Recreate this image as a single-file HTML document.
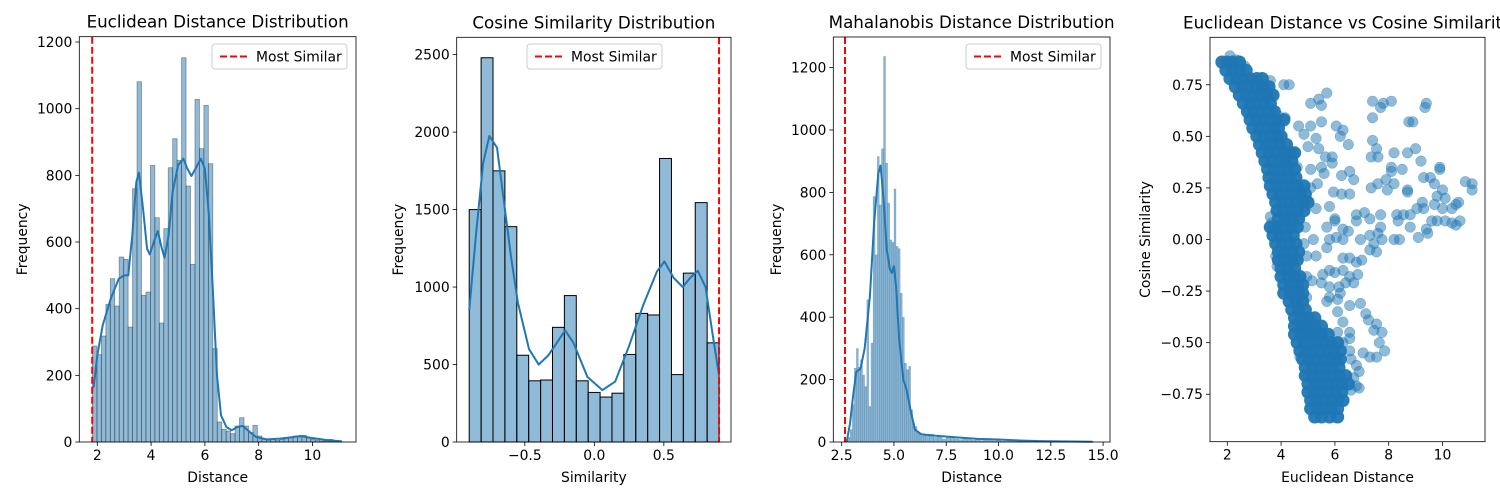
<!DOCTYPE html>
<html><head><meta charset="utf-8">
<style>
body{margin:0;background:#fff;width:1500px;height:500px;overflow:hidden}
svg{display:block}
text{font-family:"DejaVu Sans","Liberation Sans",sans-serif;fill:#000}
</style></head>
<body>
<svg id="fig" width="1500" height="500" viewBox="0 0 1500 500" xmlns="http://www.w3.org/2000/svg"></svg>
<script>
// ---------- DATA ----------
const euclidHist = [288,262,318,413,490,408,555,548,345,760,1081,440,450,830,673,357,640,823,910,845,1153,768,533,1028,880,1010,835,280,60,38,33,25,48,73,48,28,50,18,8,5,8,5,8,10,15,18,15,20,12,8,5,3,3,8,3,2];
const euclidRange = [1.82, 11.1];
const euclidKdeX = [1.86,2.0,2.2,2.5,2.8,3.0,3.15,3.3,3.45,3.55,3.7,3.85,3.95,4.1,4.25,4.4,4.5,4.65,4.8,5.0,5.2,5.35,5.5,5.65,5.85,6.0,6.15,6.3,6.45,6.6,6.8,7.0,7.2,7.4,7.6,7.9,8.3,8.8,9.2,9.55,9.9,10.5,11.1];
const euclidKdeY = [163,260,350,430,490,500,500,620,780,808,700,580,563,600,633,580,553,620,750,830,850,820,798,820,850,820,680,450,200,80,45,35,45,48,35,15,8,10,14,18,13,6,2];
const euclidMostSimilar = 1.81;

const cosHist = [1500,2480,1750,1390,560,395,400,740,945,395,320,290,315,565,830,820,1830,435,1090,1545,640];
const cosRange = [-0.9, 0.897];
const cosKdeX = [-0.9,-0.85,-0.8,-0.755,-0.7,-0.65,-0.6,-0.55,-0.47,-0.4,-0.33,-0.21,-0.15,-0.05,0.058,0.15,0.25,0.35,0.45,0.504,0.57,0.636,0.69,0.744,0.8,0.85,0.897];
const cosKdeY = [850,1350,1800,1975,1900,1550,1200,900,600,500,560,720,640,420,335,390,620,880,1100,1165,1060,1000,1060,1105,1000,700,430];
const cosMostSimilar = 0.897;

const mahaCore = [5,15,40,120,237,300,240,264,215,178,456,114,317,787,600,915,760,940,1236,894,766,648,640,811,627,620,477,400,253,232,243,104,60,50,35,29,20,25];
const mahaCoreStart = 2.7;
const mahaTail = [20,25,15,20,10,15,12,10,8,10,8,6,8,5,6,5,4,5,3,3,4,2,2,3,2,2,1,2,1,1,1,1,2,1,1,1,1,1,1,2];
const mahaTailStart = 6.5;
const mahaKdeX = [2.74,2.9,3.05,3.2,3.4,3.6,3.85,4.05,4.25,4.36,4.5,4.65,4.8,4.9,5.0,5.1,5.25,5.45,5.6,5.8,6.0,6.3,7,8,9,10,11,12,13,14.5];
const mahaKdeY = [0,60,150,225,235,300,467,700,860,886,780,620,555,542,563,500,330,200,168,100,40,25,20,15,10,8,5,3,2,1];
const mahaMostSimilar = 2.66;

// scatter: dense core cluster points
const bandEuclid = [
1.8,2.0,2.2,2.45, 1.95,2.2,2.45,2.7, 2.1,2.35,2.6,2.85,3.1,3.3, 2.3,2.55,2.8,3.05,3.3,3.55, 2.45,2.7,2.95,3.2,3.45,3.7,
2.6,2.85,3.1,3.35,3.6, 2.75,3.0,3.25,3.5,3.75, 2.85,3.1,3.35,3.6,3.85,4.1, 2.95,3.2,3.45,3.7,3.9, 3.1,3.35,3.6,3.85,4.0,
3.2,3.45,3.7,3.95,4.2, 3.3,3.55,3.8,4.05,4.3,4.5, 3.4,3.65,3.9,4.15,4.4, 3.5,3.75,4.0,4.25,4.5, 3.55,3.8,4.05,4.3,4.55,
3.6,3.85,4.1,4.35,4.6,4.85, 3.7,3.95,4.2,4.45,4.7,4.9, 3.8,4.05,4.3,4.55,4.8,5.0, 3.85,4.1,4.35,4.6,4.85, 3.9,4.15,4.4,4.65,
3.6,3.85,4.1,4.35,4.6, 3.7,3.95,4.2,4.45, 3.8,4.05,4.3,4.55, 3.9,4.15,4.4,4.65, 3.9,4.15,4.4,4.6, 4.0,4.25,4.5, 4.0,4.25,4.5,4.7,
4.1,4.35,4.6,4.8, 4.1,4.35,4.6,4.8, 4.3,4.55,4.8, 4.4,4.65,4.9, 4.5,4.75,5.0,5.25, 4.5,4.75,5.0,5.25,5.5, 4.5,4.75,5.0,5.25,5.5,5.75,
4.6,4.85,5.1,5.35,5.6,5.85,6.1, 4.7,4.95,5.2,5.45,5.7,5.95,6.2, 4.8,5.05,5.3,5.55,5.8,6.05,6.2, 4.9,5.15,5.4,5.65,5.9,6.15,
4.9,5.15,5.4,5.65,5.9,6.15,6.4, 5.0,5.25,5.5,5.75,6.0,6.25,6.5, 5.0,5.25,5.5,5.75,6.0,6.25, 5.1,5.35,5.6,5.85,6.1,6.3,
5.1,5.35,5.6,5.85,6.1, 5.25,5.5,5.8,6.1];
const bandCosine = [
0.86,0.86,0.86,0.86, 0.82,0.82,0.82,0.82, 0.78,0.78,0.78,0.78,0.78,0.78, 0.74,0.74,0.74,0.74,0.74,0.74, 0.70,0.70,0.70,0.70,0.70,0.70,
0.66,0.66,0.66,0.66,0.66, 0.62,0.62,0.62,0.62,0.62, 0.58,0.58,0.58,0.58,0.58,0.58, 0.54,0.54,0.54,0.54,0.54, 0.50,0.50,0.50,0.50,0.50,
0.46,0.46,0.46,0.46,0.46, 0.42,0.42,0.42,0.42,0.42,0.42, 0.38,0.38,0.38,0.38,0.38, 0.34,0.34,0.34,0.34,0.34, 0.30,0.30,0.30,0.30,0.30,
0.26,0.26,0.26,0.26,0.26,0.26, 0.22,0.22,0.22,0.22,0.22,0.22, 0.18,0.18,0.18,0.18,0.18,0.18, 0.14,0.14,0.14,0.14,0.14, 0.10,0.10,0.10,0.10,
0.06,0.06,0.06,0.06,0.06, 0.02,0.02,0.02,0.02, -0.02,-0.02,-0.02,-0.02, -0.06,-0.06,-0.06,-0.06, -0.10,-0.10,-0.10,-0.10, -0.14,-0.14,-0.14, -0.18,-0.18,-0.18,-0.18,
-0.22,-0.22,-0.22,-0.22, -0.26,-0.26,-0.26,-0.26, -0.30,-0.30,-0.30, -0.34,-0.34,-0.34, -0.38,-0.38,-0.38,-0.38, -0.42,-0.42,-0.42,-0.42,-0.42, -0.46,-0.46,-0.46,-0.46,-0.46,-0.46,
-0.50,-0.50,-0.50,-0.50,-0.50,-0.50,-0.50, -0.54,-0.54,-0.54,-0.54,-0.54,-0.54,-0.54, -0.58,-0.58,-0.58,-0.58,-0.58,-0.58,-0.58, -0.62,-0.62,-0.62,-0.62,-0.62,-0.62,
-0.66,-0.66,-0.66,-0.66,-0.66,-0.66,-0.66, -0.70,-0.70,-0.70,-0.70,-0.70,-0.70,-0.70, -0.74,-0.74,-0.74,-0.74,-0.74,-0.74, -0.78,-0.78,-0.78,-0.78,-0.78,-0.78,
-0.82,-0.82,-0.82,-0.82,-0.82, -0.86,-0.86,-0.86,-0.86];

// scatter: sparse outlier points
const outlierEuclid = [
2.1,3.6,4.1,4.3,5.4,5.1,5.5,5.7,7.4,7.8,8.1,7.7,7.4,9.4,9.35,4.65,5.1,5.5,6.05,6.3,6.2,6.5,5.3,4.85,5.0,5.4,7.4,7.55,7.35,7.6,
8.75,8.9,8.2,8.7,9.0,9.2,5.65,5.9,5.9,8.1,8.1,8.5,9.9,9.9,5.1,5.5,5.6,6.25,6.55,6.7,9.3,9.55,9.7,10.85,11.1,11.1,7.35,7.6,7.9,8.2,
7.95,8.7,8.7,5.95,6.25,6.55,10.0,9.8,10.1,9.7,9.25,9.05,9.3,10.5,10.6,10.35,10.0,8.3,8.55,8.8,8.35,8.8,9.8,10.1,10.35,10.65,10.5,
9.4,9.45,9.1,9.6,8.2,8.4,6.8,7.1,7.3,6.8,7.7,6.95,7.3,7.6,7.7,7.45,7.75,7.3,7.55,5.7,6.0,6.3,6.5,6.05,5.8,6.3,4.9,5.2,4.85,5.3,
4.95,5.7,4.85,5.3,5.8,6.0,4.95,4.65,5.1,5.35,6.3,6.55,6.8,7.0,5.8,6.0,6.3,6.55,6.85,6.4,6.7,4.95,5.15,5.5,5.8,5.55,6.15,6.2,6.1,
5.8,5.7,6.95,6.55,6.1,7.15,7.25,7.55,7.45,7.75,6.3,6.1,6.55,6.55,6.3,7.65,7.85,7.55,7.3,7.05,6.55,6.6,6.8,6.9,6.7,6.8,6.6,6.9,
4.95,5.2,4.7,4.7,4.65,4.95,3.6,3.65,3.7,3.8,3.85,4.2,4.35,4.45,4.6,3.7,3.9,4.15,3.4,3.65,3.5,2.35,2.5,2.65];
const outlierCosine = [
0.89,0.77,0.75,0.75,0.68,0.66,0.65,0.71,0.67,0.66,0.67,0.64,0.59,0.66,0.64,0.55,0.55,0.57,0.55,0.53,0.50,0.46,0.49,0.51,0.45,0.44,0.48,0.44,0.40,0.40,
0.57,0.57,0.42,0.42,0.44,0.38,0.40,0.40,0.37,0.35,0.33,0.34,0.35,0.34,0.34,0.35,0.32,0.31,0.33,0.29,0.30,0.30,0.27,0.28,0.27,0.24,0.25,0.27,0.29,0.27,
0.24,0.24,0.23,0.23,0.22,0.22,0.24,0.21,0.20,0.17,0.18,0.15,0.15,0.17,0.18,0.15,0.15,0.12,0.12,0.12,0.09,0.06,0.09,0.09,0.08,0.09,0.07,
0.05,0.03,0.01,0.09,0.0,0.0,0.12,0.13,0.10,0.09,0.12,0.0,0.02,0.03,0.06,-0.02,0.0,-0.05,-0.06,0.06,0.09,0.05,0.04,0.01,0.0,0.0,0.06,0.0,-0.02,-0.08,
-0.08,-0.04,0.16,0.15,0.16,0.10,0.19,0.24,0.25,0.27,-0.09,-0.09,-0.11,-0.10,-0.15,-0.16,-0.15,-0.18,-0.17,-0.21,-0.21,-0.18,-0.20,-0.21,-0.23,-0.17,-0.23,-0.26,-0.29,
-0.28,-0.30,-0.31,-0.32,-0.35,-0.36,-0.39,-0.41,-0.44,-0.45,-0.40,-0.45,-0.45,-0.48,-0.50,-0.50,-0.54,-0.57,-0.57,-0.55,-0.54,-0.58,-0.61,-0.64,-0.67,-0.71,-0.73,-0.72,
-0.40,-0.45,-0.43,-0.57,-0.31,-0.28,0.11,0.08,0.05,-0.08,-0.13,0.40,0.37,0.42,0.35,0.63,0.60,0.59,0.74,0.71,0.68,0.87,0.85,0.84];

// ---------- RENDER ----------
const NS = "http://www.w3.org/2000/svg";
const svg = document.getElementById('fig');
function mk(tag, attrs, parent){const e=document.createElementNS(NS,tag);for(const k in attrs)e.setAttribute(k,attrs[k]);(parent||svg).appendChild(e);return e;}
function txt(s, attrs, parent){const e=mk('text',attrs,parent);e.textContent=s;return e;}

function axes(cfg){
  const g = mk('g',{});
  
  
  const sx = v => cfg.L + (v-cfg.x0)/(cfg.x1-cfg.x0)*(cfg.R-cfg.L);
  const sy = v => cfg.B - (v-cfg.y0)/(cfg.y1-cfg.y0)*(cfg.B-cfg.T);
  return {g, sx, sy};
}
function frame(cfg, a, xticks, xlabels, yticks, ylabels){
  const g = a.g;
  xticks.forEach((v,i)=>{
    const x=a.sx(v);
    mk('line',{x1:x,y1:cfg.B,x2:x,y2:cfg.B+4,stroke:'#000','stroke-width':0.8},g);
    const t=txt(xlabels[i],{x:x,y:cfg.B+18,'font-size':13.9,'text-anchor':'middle'},g);
    
    
  });
  yticks.forEach((v,i)=>{
    const y=a.sy(v);
    mk('line',{x1:cfg.L-4,y1:y,x2:cfg.L,y2:y,stroke:'#000','stroke-width':0.8},g);
    const t=txt(ylabels[i],{x:cfg.L-7,y:y+5,'font-size':13.9,'text-anchor':'end'},g);
    
    
  });
  const r=mk('rect',{x:cfg.L,y:cfg.T,width:cfg.R-cfg.L,height:cfg.B-cfg.T,fill:'none',stroke:'#000','stroke-width':0.8},g);
  
  
  const tt=txt(cfg.title,{x:(cfg.L+cfg.R)/2,y:cfg.T-9,'font-size':16.7,'text-anchor':'middle'},g);
  
  
  const xl=txt(cfg.xlabel,{x:(cfg.L+cfg.R)/2,y:482,'font-size':13.9,'text-anchor':'middle'},g);
  
  
  const yx=cfg.ylabelX, yy=(cfg.T+cfg.B)/2;
  const yl=txt(cfg.ylabel,{x:yx,y:yy,'font-size':13.9,'text-anchor':'middle',transform:`rotate(-90 ${yx} ${yy})`},g);
  
  
}
function histBars(a, vals, start, width, style){
  vals.forEach((v,i)=>{
    const x0=a.sx(start+i*width), x1=a.sx(start+(i+1)*width), y=a.sy(v), y0=a.sy(0);
    const r=mk('rect',Object.assign({x:x0,y:y,width:Math.max(0,x1-x0),height:y0-y},style),a.g);
    
    
  });
}
function kde(a, xs, ys){
  const p=mk('polyline',{points:xs.map((x,i)=>a.sx(x)+','+a.sy(ys[i])).join(' '),fill:'none',stroke:'#1f77b4','stroke-width':2,'stroke-linejoin':'round'},a.g);
  
  
}
function vline(a, cfg, v){
  const x=a.sx(v);
  const l=mk('line',{x1:x,y1:cfg.T,x2:x,y2:cfg.B,stroke:'#ff0000','stroke-width':2,'stroke-dasharray':'7,3'},a.g);
  
  
}
function legend(a, lx, ly){
  const lg=mk('g',{},a.g);
  
  
  mk('rect',{x:lx,y:ly,width:135,height:25,rx:3,fill:'#fff','fill-opacity':0.8,stroke:'#ccc','stroke-width':1},lg);
  mk('line',{x1:lx+8,y1:ly+12.5,x2:lx+36,y2:ly+12.5,stroke:'#ff0000','stroke-width':2,'stroke-dasharray':'7,3'},lg);
  const t=txt('Most Similar',{x:lx+44,y:ly+17.5,'font-size':13.9},lg);
  
  
}

// Panel 1
const c1={name:'euclidean-histogram',L:79.3,R:356,T:36.7,B:442,x0:1.33,x1:11.62,y0:0,y1:1216,title:'Euclidean Distance Distribution',xlabel:'Distance',ylabel:'Frequency',ylabelX:27};
const a1=axes(c1);
const w1=(euclidRange[1]-euclidRange[0])/euclidHist.length;
histBars(a1,euclidHist,euclidRange[0],w1,{fill:'rgba(31,119,180,0.5)',stroke:'rgba(40,40,40,0.45)','stroke-width':0.8});
kde(a1,euclidKdeX,euclidKdeY);
vline(a1,c1,euclidMostSimilar);
frame(c1,a1,[2,4,6,8,10],['2','4','6','8','10'],[0,200,400,600,800,1000,1200],['0','200','400','600','800','1000','1200']);
legend(a1,212,44);

// Panel 2
const c2={name:'cosine-histogram',L:456.7,R:731,T:37.3,B:442,x0:-0.99,x1:0.983,y0:0,y1:2612,title:'Cosine Similarity Distribution',xlabel:'Similarity',ylabel:'Frequency',ylabelX:403};
const a2=axes(c2);
const w2=(cosRange[1]-cosRange[0])/cosHist.length;
histBars(a2,cosHist,cosRange[0],w2,{fill:'rgba(31,119,180,0.5)',stroke:'#000','stroke-width':1});
kde(a2,cosKdeX,cosKdeY);
vline(a2,c2,cosMostSimilar);
frame(c2,a2,[-0.5,0,0.5],['\u22120.5','0.0','0.5'],[0,500,1000,1500,2000,2500],['0','500','1000','1500','2000','2500']);
legend(a2,527,44);

// Panel 3
const c3={name:'mahalanobis-histogram',L:833.3,R:1110,T:37,B:442,x0:2.1,x1:15.33,y0:0,y1:1298,title:'Mahalanobis Distance Distribution',xlabel:'Distance',ylabel:'Frequency',ylabelX:781};
const a3=axes(c3);
histBars(a3,mahaCore,mahaCoreStart,0.1,{fill:'rgba(31,119,180,0.55)',stroke:'rgba(60,60,60,0.25)','stroke-width':0.4});
histBars(a3,mahaTail,mahaTailStart,0.2,{fill:'rgba(31,119,180,0.55)',stroke:'rgba(60,60,60,0.25)','stroke-width':0.4});
kde(a3,mahaKdeX,mahaKdeY);
vline(a3,c3,mahaMostSimilar);
frame(c3,a3,[2.5,5,7.5,10,12.5,15],['2.5','5.0','7.5','10.0','12.5','15.0'],[0,200,400,600,800,1000,1200],['0','200','400','600','800','1000','1200']);
legend(a3,966,44);

// Panel 4
const c4={name:'euclidean-vs-cosine-scatter',L:1210,R:1485,T:37.3,B:441.7,x0:1.357,x1:11.58,y0:-0.98,y1:0.98,title:'Euclidean Distance vs Cosine Similarity',xlabel:'Euclidean Distance',ylabel:'Cosine Similarity',ylabelX:1150};
const a4=axes(c4);
outlierEuclid.forEach((x,i)=>{
  const c=mk('circle',{cx:a4.sx(x),cy:a4.sy(outlierCosine[i]),r:5.3,fill:'#1f77b4','fill-opacity':0.5,stroke:'#1f77b4','stroke-opacity':0.5,'stroke-width':0.5},a4.g);
  
  
});
bandEuclid.forEach((x,i)=>{
  const c=mk('circle',{cx:a4.sx(x),cy:a4.sy(bandCosine[i]),r:6.6,fill:'#1f77b4','fill-opacity':0.95,stroke:'none'},a4.g);
  
  
});
frame(c4,a4,[2,4,6,8,10],['2','4','6','8','10'],[-0.75,-0.5,-0.25,0,0.25,0.5,0.75],['\u22120.75','\u22120.50','\u22120.25','0.00','0.25','0.50','0.75']);
</script>
</body></html>
